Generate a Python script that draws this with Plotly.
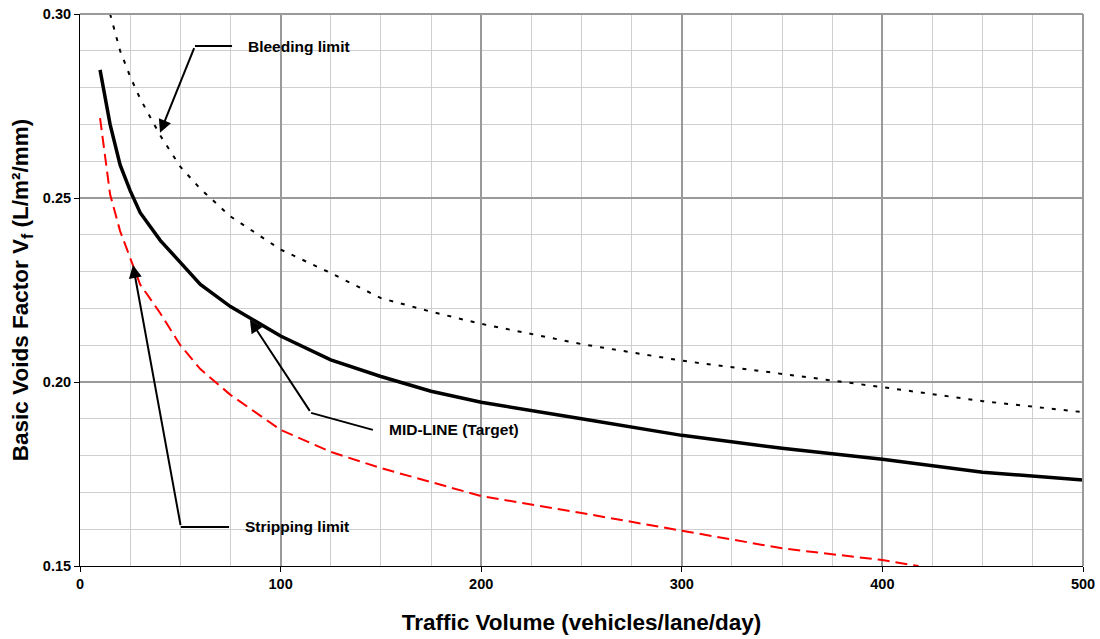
import plotly.graph_objects as go

# ---- data ----
mid_x = [10, 15, 20, 25, 30, 40, 50, 60, 75, 100, 125, 150, 175, 200, 250, 300, 350, 400, 450, 500]
mid_y = [0.2848, 0.2700, 0.2590, 0.2520, 0.2460, 0.2385, 0.2325, 0.2265, 0.2205, 0.2125, 0.2060,
         0.2015, 0.1975, 0.1945, 0.1900, 0.1855, 0.1820, 0.1790, 0.1755, 0.1734]

bleed_x = [15, 20, 25, 30, 40, 50, 60, 75, 100, 125, 150, 175, 200, 250, 300, 350, 400, 450, 500]
bleed_y = [0.3000, 0.2900, 0.2830, 0.2770, 0.2670, 0.2585, 0.2525, 0.2450, 0.2360, 0.2296, 0.2228,
           0.2191, 0.2158, 0.2103, 0.2058, 0.2023, 0.1986, 0.1948, 0.1918]

strip_x = [10, 15, 20, 25, 30, 40, 50, 60, 75, 100, 125, 150, 200, 250, 300, 350, 400, 418]
strip_y = [0.2717, 0.2510, 0.2410, 0.2335, 0.2265, 0.2187, 0.2100, 0.2035, 0.1965, 0.1870, 0.1810,
           0.1766, 0.1690, 0.1644, 0.1595, 0.1548, 0.1516, 0.1500]

x_ticks = [0, 100, 200, 300, 400, 500]
y_ticks = [0.15, 0.20, 0.25, 0.30]
y_tick_labels = ["0.15", "0.20", "0.25", "0.30"]

FONT = "Liberation Sans"

fig = go.Figure()
fig.add_trace(go.Scatter(x=bleed_x, y=bleed_y, mode="lines", name="Bleeding limit",
                         line=dict(color="black", width=2, dash="4px,8px")))
fig.add_trace(go.Scatter(x=strip_x, y=strip_y, mode="lines", name="Stripping limit",
                         line=dict(color="#ff0000", width=2, dash="12px,6px")))
fig.add_trace(go.Scatter(x=mid_x, y=mid_y, mode="lines", name="MID-LINE (Target)",
                         line=dict(color="black", width=3.5)))

# callouts: (head x, head y, knee x, knee y, end x, end y, label)
callouts = [
    (39.9, 0.2677, 57.3, 0.2913, 75.8, 0.2913, "Bleeding limit"),
    (84.7, 0.2169, 115.2, 0.1916, 146.0, 0.1870, "MID-LINE (Target)"),
    (26.4, 0.2318, 50.3, 0.1606, 74.3, 0.1606, "Stripping limit"),
]
for hx, hy, kx, ky, ex, ey, label in callouts:
    fig.add_annotation(x=hx, y=hy, ax=kx, ay=ky, xref="x", yref="y", axref="x", ayref="y",
                       text=" ", showarrow=True, arrowhead=2, arrowsize=1.3, arrowwidth=2,
                       arrowcolor="black", font=dict(size=1))
    fig.add_shape(type="line", x0=kx, y0=ky, x1=ex, y1=ey, xref="x", yref="y",
                  line=dict(color="black", width=2))
    fig.add_annotation(x=ex + 7, y=ey, xref="x", yref="y", text="<b>%s</b>" % label,
                       showarrow=False, xanchor="left", yanchor="middle",
                       font=dict(family=FONT, size=15.5, color="black"))

fig.update_layout(
    width=1100, height=639,
    margin=dict(l=80, r=17, t=14, b=73),
    paper_bgcolor="white", plot_bgcolor="white",
    showlegend=False,
    font=dict(family=FONT, size=14, color="black"),
)
fig.update_xaxes(
    range=[0, 500], tickvals=x_ticks, ticktext=["<b>%d</b>" % v for v in x_ticks],
    tickfont=dict(family=FONT, size=14.5), ticklabeloverflow="allow",
    showgrid=True, gridcolor="#9a9a9a", gridwidth=2,
    minor=dict(dtick=25, showgrid=True, gridcolor="#cfcfcf", gridwidth=1),
    showline=True, linecolor="black", linewidth=1, mirror=False,
    ticks="outside", ticklen=5, tickcolor="black",
    zeroline=False, automargin=False,
    title=dict(text="<b>Traffic Volume (vehicles/lane/day)</b>", font=dict(family=FONT, size=22.5),
               standoff=22),
)
fig.update_yaxes(
    range=[0.15, 0.30], tickvals=y_ticks, ticktext=["<b>%s</b>" % t for t in y_tick_labels],
    tickfont=dict(family=FONT, size=14.5), ticklabeloverflow="allow",
    showgrid=True, gridcolor="#9a9a9a", gridwidth=2,
    minor=dict(dtick=0.01, showgrid=True, gridcolor="#cfcfcf", gridwidth=1),
    showline=True, linecolor="black", linewidth=1,
    ticks="outside", ticklen=5, tickcolor="black",
    zeroline=False, automargin=False,
    title=dict(text="<b>Basic Voids Factor V<sub>f</sub> (L/m²/mm)</b>",
               font=dict(family=FONT, size=22.5), standoff=7),
)
# gray frame on top and right
fig.add_shape(type="line", xref="paper", yref="paper", x0=0, x1=1, y0=1, y1=1,
              line=dict(color="#9a9a9a", width=2))
fig.add_shape(type="line", xref="paper", yref="paper", x0=1, x1=1, y0=0, y1=1,
              line=dict(color="#9a9a9a", width=2))

# remove the default page margin so the figure fills the window exactly
fig.write_html("out.html", config={"displayModeBar": False},
               post_script="document.body.style.margin='0';")
